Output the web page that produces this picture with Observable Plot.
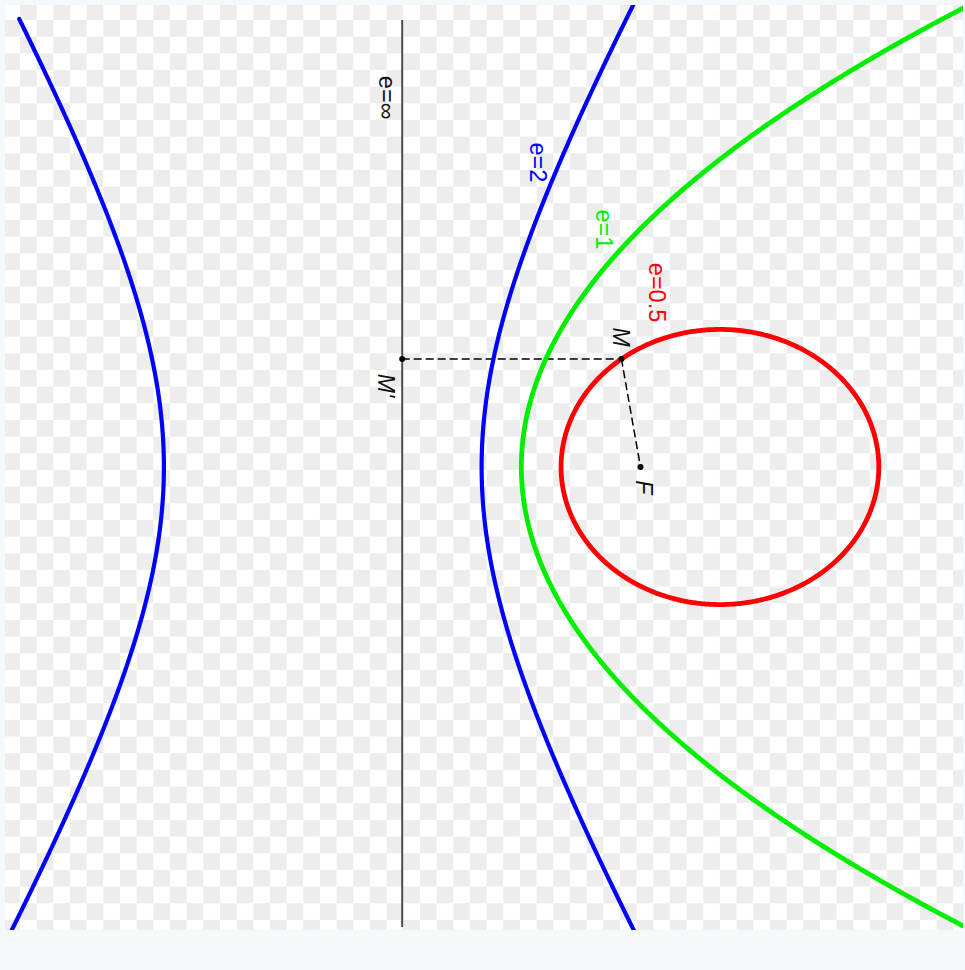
<!DOCTYPE html>
<html>
<head>
<meta charset="utf-8">
<script src="https://cdn.jsdelivr.net/npm/d3@7"></script>
<script src="https://cdn.jsdelivr.net/npm/@observablehq/plot@0.6"></script>
<style>
  html, body { margin: 0; padding: 0; background: #f6f9fc; }
  #wrap { position: relative; width: 965px; height: 970px; }
  #checker {
    position: absolute; left: 5px; top: 5px; width: 958px; height: 925px;
    background-image: conic-gradient(#ededed 25%, #ffffff 0 50%, #ededed 0 75%, #ffffff 0);
    background-size: 33.33px 33.33px;
    background-position: -1.67px -1.67px;
  }
  #chart { position: absolute; left: 0; top: 0; }
</style>
</head>
<body>
<div id="wrap"><div id="checker"></div><div id="chart"></div></div>
<script>
// ---- data (units: focus–directrix distance = 1) ----
const conicE = [2, 1, 0.5];                 // eccentricities of the drawn conics
const conicLabels = ["e=2", "e=1", "e=0.5"];
const directrixLabel = "e=∞";
const directrixX = 0;                       // directrix line x = 0
const focusX = 1, focusY = 0;               // focus F
const directrixY = [-1.932, 1.874];         // drawn extent of the directrix
const leftBranchTop = 1.88;                 // left hyperbola branch ends here at the top
const mAngleDeg = 100;                      // polar angle of M on the ellipse, seen from F
const labelTexts = [directrixLabel, ...conicLabels];
const labelX = [-0.064, 0.566, 0.843, 1.069];
const labelY = [1.550, 1.278, 0.997, 0.732];
const pointNames = ["M", "M'", "F"];
const pointLabelX = [0.916, -0.070, 1.013];
const pointLabelY = [0.545, 0.342, -0.085];

// ---- styles ----
const conicColors = ["#0000ff", "#00ee00", "#ff0000"];
const conicWidths = [4.2, 4.8, 4.8];
const font = "Liberation Sans, Arial, sans-serif";

// ---- geometry from the conic definition |PF| = e·|P,directrix| ----
function conicSeries(e, idx) {
  const rows = [];
  if (e < 1) {
    for (let t = 0; t <= 360; t += 0.5) {
      const th = t * Math.PI / 180;
      const r = e / (1 - e * Math.cos(th));
      rows.push({x: focusX + r * Math.cos(th), y: focusY + r * Math.sin(th), z: idx + "a"});
    }
  } else {
    const ys = d3.range(-2.3, 2.3001, 0.005);
    for (const y of ys) {
      if (e === 1) {
        rows.push({x: (1 + y * y) / 2, y, z: idx + "a"});
      } else {
        const a = 1 - e * e;
        const s = Math.sqrt(1 - a * (1 + y * y));
        rows.push({x: (1 - s) / a, y, z: idx + "a"});
        if (y <= leftBranchTop) rows.push({x: (1 + s) / a, y, z: idx + "b"});
      }
    }
  }
  return rows;
}

const thM = mAngleDeg * Math.PI / 180;
const rM = 0.5 / (1 - 0.5 * Math.cos(thM));
const M = [focusX + rM * Math.cos(thM), focusY + rM * Math.sin(thM)];
const Mp = [directrixX, M[1]];
const F = [focusX, focusY];

const conicLabelRows = labelTexts.map((t, i) => ({t, x: labelX[i], y: labelY[i],
  c: i === 0 ? "#111111" : conicColors[i - 1]}));
const pointLabelRows = pointNames.map((t, i) => ({t, x: pointLabelX[i], y: pointLabelY[i]}));

const chart = Plot.plot({
  width: 965,
  height: 970,
  marginLeft: 5, marginRight: 2, marginTop: 5, marginBottom: 40,
  x: {domain: [-1.6647, 2.3555], axis: null},
  y: {domain: [-1.9450, 1.9366], axis: null},
  color: {type: "identity"},
  style: {background: "transparent"},
  marks: [
    Plot.ruleX([directrixX], {y1: directrixY[0], y2: directrixY[1], stroke: "#4d4d4d", strokeWidth: 2}),
    Plot.line([Mp, M], {stroke: "black", strokeWidth: 1.5, strokeDasharray: "7,5"}),
    Plot.line([M, F], {stroke: "black", strokeWidth: 1.5, strokeDasharray: "7,5"}),
    ...conicE.map((e, i) => Plot.line(conicSeries(e, i), {
      x: "x", y: "y", z: "z", stroke: conicColors[i], strokeWidth: conicWidths[i], clip: true
    })),
    Plot.dot([Mp, M, F], {r: 3, fill: "black"}),
    Plot.text(conicLabelRows, {x: "x", y: "y", text: "t", fill: "c", rotate: 90,
      fontSize: 23.5, fontFamily: font}),
    Plot.text(pointLabelRows, {x: "x", y: "y", text: "t", fill: "#111111", rotate: 90,
      fontSize: 23, fontFamily: font, fontStyle: "italic"})
  ]
});
document.getElementById("chart").appendChild(chart);
</script>
</body>
</html>
